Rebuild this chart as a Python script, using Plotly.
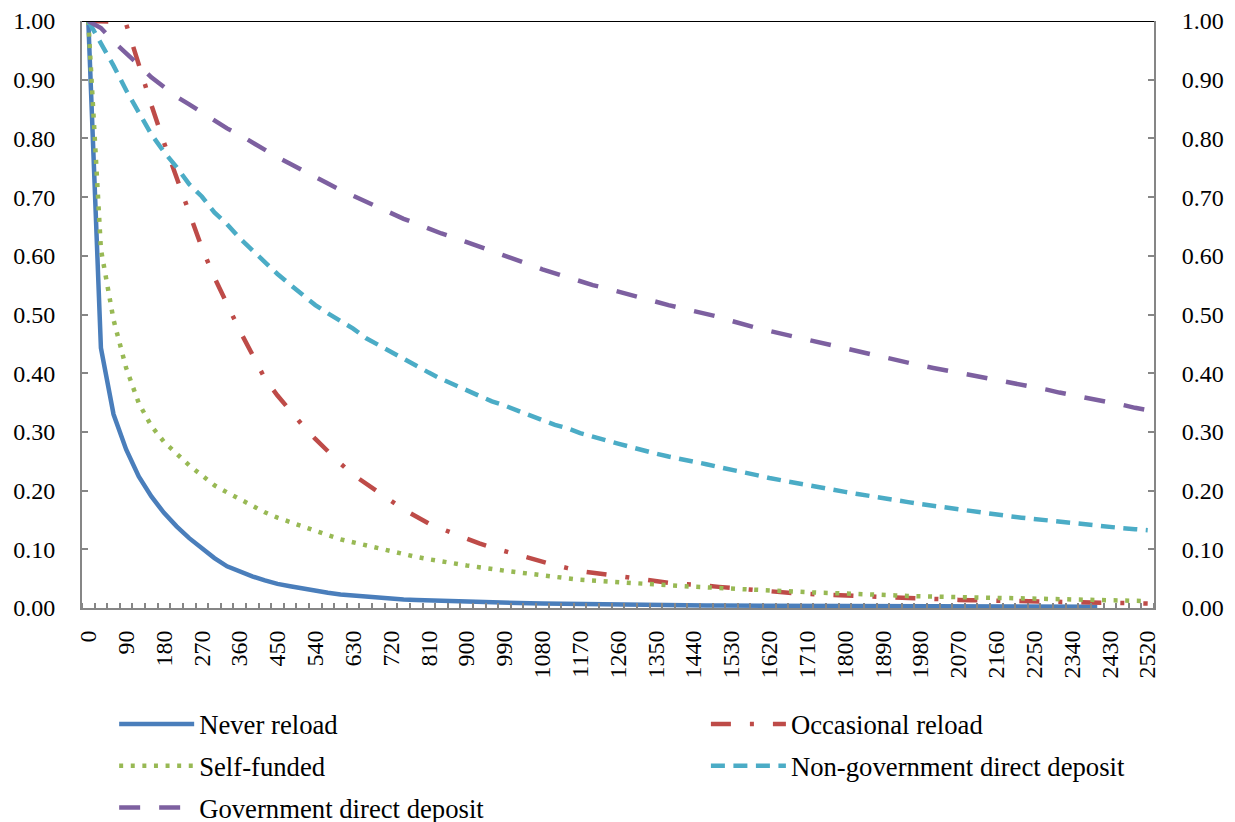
import plotly.graph_objects as go

# ---- data (days since card purchase, share of cards still active) ----
days = list(range(0, 2521, 30))
tick_days = list(range(0, 2521, 90))

never_reload = [1.0, 0.443, 0.330, 0.270, 0.224, 0.190, 0.162, 0.139, 0.119, 0.102,
                0.085, 0.071, 0.062, 0.054, 0.047, 0.041, 0.037, 0.033, 0.029, 0.026,
                0.023, 0.021, 0.019, 0.017, 0.0155, 0.0145, 0.0135, 0.0127, 0.012, 0.0113,
                0.0107, 0.0101, 0.0095, 0.009, 0.0085, 0.008, 0.0076, 0.0072, 0.0068, 0.0065,
                0.0062, 0.0059, 0.0056, 0.0054, 0.0052, 0.005, 0.0048, 0.0046, 0.0045, 0.0043,
                0.0042, 0.0041, 0.004, 0.0039, 0.0038, 0.0037, 0.0036, 0.0035, 0.0034, 0.0033,
                0.0033, 0.0032, 0.0031, 0.003, 0.003, 0.0029, 0.0028, 0.0028, 0.0027, 0.0026,
                0.0026, 0.0025, 0.0025, 0.0024, 0.0024, 0.0023, 0.0023, 0.0022, 0.0022, 0.0021,
                0.0021]

occasional_reload = [1.0, 1.0, 0.999, 0.995, 0.923, 0.857, 0.793, 0.732, 0.670, 0.614,
                     0.563, 0.517, 0.473, 0.432, 0.391, 0.362, 0.335, 0.311, 0.288, 0.266,
                     0.246, 0.227, 0.212, 0.196, 0.182, 0.168, 0.156, 0.144, 0.135, 0.126,
                     0.118, 0.110, 0.103, 0.097, 0.090, 0.084, 0.078, 0.073, 0.068, 0.063,
                     0.060, 0.057, 0.054, 0.051, 0.048, 0.046, 0.043, 0.041, 0.040, 0.038,
                     0.036, 0.034, 0.032, 0.030, 0.029, 0.027, 0.025, 0.024, 0.023, 0.0225,
                     0.0217, 0.0208, 0.0196, 0.0188, 0.0177, 0.0169, 0.0162, 0.0152, 0.0143, 0.0138,
                     0.0133, 0.0128, 0.0123, 0.0116, 0.0109, 0.0106, 0.0104, 0.0101, 0.0094, 0.0088,
                     0.0085, 0.0084, 0.0082, 0.008, 0.0076]

self_funded = [1.0, 0.611, 0.491, 0.409, 0.349, 0.310, 0.283, 0.262, 0.243, 0.226,
               0.209, 0.197, 0.185, 0.174, 0.163, 0.154, 0.146, 0.138, 0.130, 0.124,
               0.117, 0.112, 0.106, 0.101, 0.096, 0.091, 0.087, 0.083, 0.079, 0.0755,
               0.0725, 0.0695, 0.066, 0.0635, 0.061, 0.058, 0.055, 0.0525, 0.0505, 0.048,
               0.0465, 0.045, 0.0435, 0.0418, 0.0405, 0.039, 0.0385, 0.0375, 0.0363, 0.0348,
               0.0338, 0.033, 0.032, 0.031, 0.0297, 0.029, 0.0275, 0.0266, 0.026, 0.0255,
               0.025, 0.0244, 0.0235, 0.0227, 0.0215, 0.0205, 0.020, 0.0196, 0.0192, 0.0188,
               0.0184, 0.0174, 0.0165, 0.016, 0.0155, 0.015, 0.0145, 0.0141, 0.0138, 0.0135,
               0.0131, 0.0126, 0.0123, 0.012, 0.0118]

non_gov_dd = [1.0, 0.963, 0.924, 0.882, 0.843, 0.807, 0.777, 0.751, 0.722, 0.701,
              0.674, 0.654, 0.630, 0.609, 0.590, 0.569, 0.551, 0.533, 0.516, 0.502,
              0.489, 0.476, 0.460, 0.448, 0.435, 0.423, 0.413, 0.401, 0.390, 0.380,
              0.370, 0.361, 0.352, 0.345, 0.336, 0.328, 0.320, 0.312, 0.306, 0.298,
              0.291, 0.286, 0.280, 0.274, 0.269, 0.263, 0.258, 0.254, 0.249, 0.245,
              0.240, 0.236, 0.2315, 0.2264, 0.2214, 0.2172, 0.2133, 0.2093, 0.2054, 0.202,
              0.1978, 0.1942, 0.1904, 0.1872, 0.1838, 0.1804, 0.1771, 0.1739, 0.1711, 0.1677,
              0.165, 0.1618, 0.1587, 0.1565, 0.1539, 0.1515, 0.1495, 0.1473, 0.1447, 0.142,
              0.1398, 0.1383, 0.136, 0.1343, 0.1326]

gov_dd = [1.0, 0.988, 0.965, 0.946, 0.925, 0.904, 0.887, 0.871, 0.858, 0.844,
          0.832, 0.817, 0.806, 0.793, 0.780, 0.768, 0.757, 0.745, 0.734, 0.723,
          0.712, 0.702, 0.691, 0.682, 0.672, 0.663, 0.655, 0.646, 0.638, 0.631,
          0.623, 0.615, 0.608, 0.600, 0.592, 0.585, 0.577, 0.570, 0.564, 0.557,
          0.550, 0.545, 0.539, 0.533, 0.527, 0.522, 0.516, 0.511, 0.506, 0.501,
          0.496, 0.489, 0.482, 0.477, 0.472, 0.467, 0.462, 0.457, 0.451, 0.446,
          0.441, 0.436, 0.431, 0.427, 0.422, 0.417, 0.413, 0.409, 0.405, 0.401,
          0.396, 0.392, 0.388, 0.384, 0.380, 0.376, 0.372, 0.367, 0.363, 0.359,
          0.355, 0.351, 0.346, 0.341, 0.337]

y_ticks = [i / 10 for i in range(11)]

# name, values, colour, dash pattern, legend column, y axis
series = [
    ("Never reload", never_reload, "#4A7EBB", "solid", "legend", "y"),
    ("Occasional reload", occasional_reload, "#BE4B48", "20px,19px,4px,19px", "legend2", "y"),
    ("Self-funded", self_funded, "#98B954", "4px,7.6px", "legend", "y"),
    ("Non-government direct deposit", non_gov_dd, "#4BACC6", "14px,8.5px", "legend2", "y"),
    # drawn against the (identical) right-hand axis so that axis is rendered
    ("Government direct deposit", gov_dd, "#7D60A0", "21px,19px", "legend", "y2"),
]

FONT = "Liberation Serif, Times New Roman, serif"
AXIS_GREY = "#868686"

fig = go.Figure()
for i, (name, vals, color, dash, leg, yax) in enumerate(series):
    fig.add_trace(go.Scatter(
        x=days[:len(vals)], y=vals, name=name, mode="lines",
        line=dict(color=color, width=4.5, dash=dash),
        legend=leg, legendgroup=f"g{i}", yaxis=yax,
        hoverinfo="skip",
    ))

yaxis_common = dict(
    range=[0, 1], tickvals=y_ticks, tickformat=".2f",
    showline=True, linecolor=AXIS_GREY, linewidth=2,
    ticks="inside", ticklen=6, tickwidth=1.5, tickcolor=AXIS_GREY,
    showgrid=False, zeroline=False, automargin=False,
    tickfont=dict(family=FONT, size=24, color="black"),
)

legend_common = dict(
    orientation="v", xanchor="left", yanchor="top", y=-0.157,
    itemwidth=75, tracegroupgap=4,
    font=dict(family=FONT, size=26.7, color="black"),
    bgcolor="rgba(0,0,0,0)", traceorder="grouped",
)

# The page body adds an 8 px offset, so margins are trimmed by 8 px on top/left;
# the figure is made taller than the window so the legend never pushes the plot area.
fig.update_layout(
    template="none",
    width=1235, height=880,
    margin=dict(l=74, r=89, t=13, b=280),
    paper_bgcolor="white", plot_bgcolor="white",
    font=dict(family=FONT, size=24, color="black"),
    showlegend=True,
    xaxis=dict(
        range=[-15, 2535], tickmode="array", tickvals=tick_days,
        ticktext=[str(d) for d in tick_days], tickangle=-90,
        showline=True, linecolor=AXIS_GREY, linewidth=2,
        ticks="", showgrid=False, zeroline=False, automargin=False,
        tickfont=dict(family=FONT, size=24, color="black"),
        ticklabelstandoff=11,
        minor=dict(ticks="inside", tick0=15, dtick=30, ticklen=5,
                   tickwidth=1.5, tickcolor=AXIS_GREY, showgrid=False),
    ),
    yaxis=dict(ticklabelstandoff=20, **yaxis_common),
    yaxis2=dict(overlaying="y", side="right", ticklabelstandoff=21, **yaxis_common),
    legend=dict(x=0.03, **legend_common),
    legend2=dict(x=0.582, **legend_common),
    shapes=[dict(type="line", xref="paper", yref="y", x0=0, x1=1, y0=1, y1=1,
                 line=dict(color="black", width=2))],
)

fig.write_html("out.html")
